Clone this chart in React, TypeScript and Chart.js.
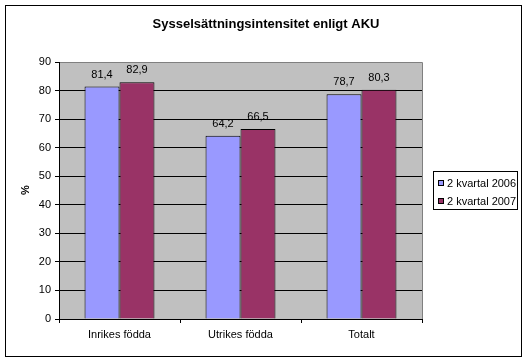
import React, { useEffect, useRef } from "react";
import { Chart, registerables } from "chart.js";

Chart.register(...registerables);

const categories = ["Inrikes födda", "Utrikes födda", "Totalt"];
const seriesNames = ["2 kvartal 2006", "2 kvartal 2007"];
const values2006 = [81.4, 64.2, 78.7];
const values2007 = [82.9, 66.5, 80.3];
const yMin = 0;
const yMax = 90;
const yStep = 10;
const chartTitle = "Sysselsättningsintensitet enligt AKU";
const yAxisTitle = "%";
const colors = ["#9999FF", "#993366"];

const FONT = "'Liberation Sans', Arial, sans-serif";

const fmt = (v: number) => v.toFixed(1).replace(".", ",");

const decorPlugin = {
  id: "decor",
  beforeDraw(chart: any) {
    const { ctx, chartArea } = chart;
    ctx.save();
    ctx.fillStyle = "#ffffff";
    ctx.fillRect(0, 0, chart.width, chart.height);
    // frame
    ctx.strokeStyle = "#000";
    ctx.lineWidth = 1;
    ctx.strokeRect(5.5, 5.5, 516, 351);
    // plot area
    ctx.fillStyle = "#C0C0C0";
    ctx.fillRect(chartArea.left, chartArea.top, chartArea.right - chartArea.left, chartArea.bottom - chartArea.top);
    ctx.strokeStyle = "#808080";
    ctx.beginPath();
    ctx.moveTo(Math.round(chartArea.left) + 0.5, Math.round(chartArea.top) + 0.5);
    ctx.lineTo(Math.round(chartArea.right) + 0.5, Math.round(chartArea.top) + 0.5);
    ctx.lineTo(Math.round(chartArea.right) + 0.5, Math.round(chartArea.bottom) + 0.5);
    ctx.stroke();
    // title
    ctx.fillStyle = "#000";
    ctx.font = `bold 13px ${FONT}`;
    ctx.textAlign = "center";
    ctx.textBaseline = "alphabetic";
    ctx.fillText(chartTitle, 266, 28);
    // y axis title
    ctx.save();
    ctx.translate(29, 190);
    ctx.rotate(-Math.PI / 2);
    ctx.font = `bold 11px ${FONT}`;
    ctx.textAlign = "center";
    ctx.textBaseline = "alphabetic";
    ctx.fillText(yAxisTitle, 0, 0);
    ctx.restore();
    ctx.restore();
  },
  afterDatasetsDraw(chart: any) {
    const { ctx } = chart;
    ctx.save();
    ctx.fillStyle = "#000";
    ctx.font = `11px ${FONT}`;
    ctx.textAlign = "center";
    ctx.textBaseline = "alphabetic";
    chart.data.datasets.forEach((ds: any, i: number) => {
      const meta = chart.getDatasetMeta(i);
      meta.data.forEach((el: any, j: number) => {
        ctx.fillText(fmt(ds.data[j]), el.x, el.y - 9);
      });
    });
    // legend
    const lx = 433.5, ly = 171.5, lw = 84, lh = 38;
    ctx.fillStyle = "#fff";
    ctx.fillRect(lx, ly, lw, lh);
    ctx.strokeStyle = "#000";
    ctx.lineWidth = 1;
    ctx.strokeRect(lx, ly, lw, lh);
    ctx.textAlign = "left";
    ctx.textBaseline = "middle";
    chart.data.datasets.forEach((ds: any, i: number) => {
      const y = 180 + i * 18;
      ctx.fillStyle = ds.backgroundColor;
      ctx.fillRect(438.5, y + 0.5, 5, 5);
      ctx.strokeStyle = "#000";
      ctx.strokeRect(438.5, y + 0.5, 5, 5);
      ctx.fillStyle = "#000";
      ctx.fillText(ds.label, 447, y + 3.5);
    });
    ctx.restore();
  },
};

export default function App() {
  const ref = useRef<HTMLCanvasElement | null>(null);
  useEffect(() => {
    if (!ref.current) return;
    const chart = new Chart(ref.current, {
      type: "bar",
      data: {
        labels: categories,
        datasets: [
          {
            label: seriesNames[0],
            data: values2006,
            backgroundColor: colors[0],
            borderColor: "#000",
            borderWidth: 1,
          },
          {
            label: seriesNames[1],
            data: values2007,
            backgroundColor: colors[1],
            borderColor: "#000",
            borderWidth: 1,
          },
        ],
      },
      options: {
        responsive: false,
        animation: false,
        devicePixelRatio: 1,
        layout: { padding: { left: 0, top: 62, right: 108, bottom: 0 } },
        datasets: {
          bar: { categoryPercentage: 0.578, barPercentage: 1 },
        },
        plugins: {
          legend: { display: false },
          title: { display: false },
          tooltip: { enabled: false },
        },
        scales: {
          x: {
            afterFit: (s: any) => {
              s.height = 44;
            },
            grid: {
              offset: true,
              drawOnChartArea: false,
              drawTicks: true,
              tickLength: 4,
              tickColor: "#000",
            },
            border: { color: "#000", width: 1 },
            ticks: { font: { family: FONT, size: 11 }, color: "#000", padding: 5 },
          },
          y: {
            min: yMin,
            max: yMax,
            afterFit: (s: any) => {
              s.width = 59;
            },
            grid: {
              color: (c: any) => (c.tick && c.tick.value === yMax ? "#808080" : "#000"),
              tickColor: "#000",
              tickLength: 4,
              lineWidth: 1,
            },
            border: { color: "#000", width: 1 },
            ticks: {
              stepSize: yStep,
              font: { family: FONT, size: 11 },
              color: "#000",
              padding: 4,
            },
          },
        },
      },
      plugins: [decorPlugin],
    });
    return () => chart.destroy();
  }, []);
  return (
    <div style={{ position: "fixed", left: 0, top: 0, width: 530, height: 363, background: "#fff" }}>
      <canvas ref={ref} width={530} height={363} style={{ display: "block" }} />
    </div>
  );
}
